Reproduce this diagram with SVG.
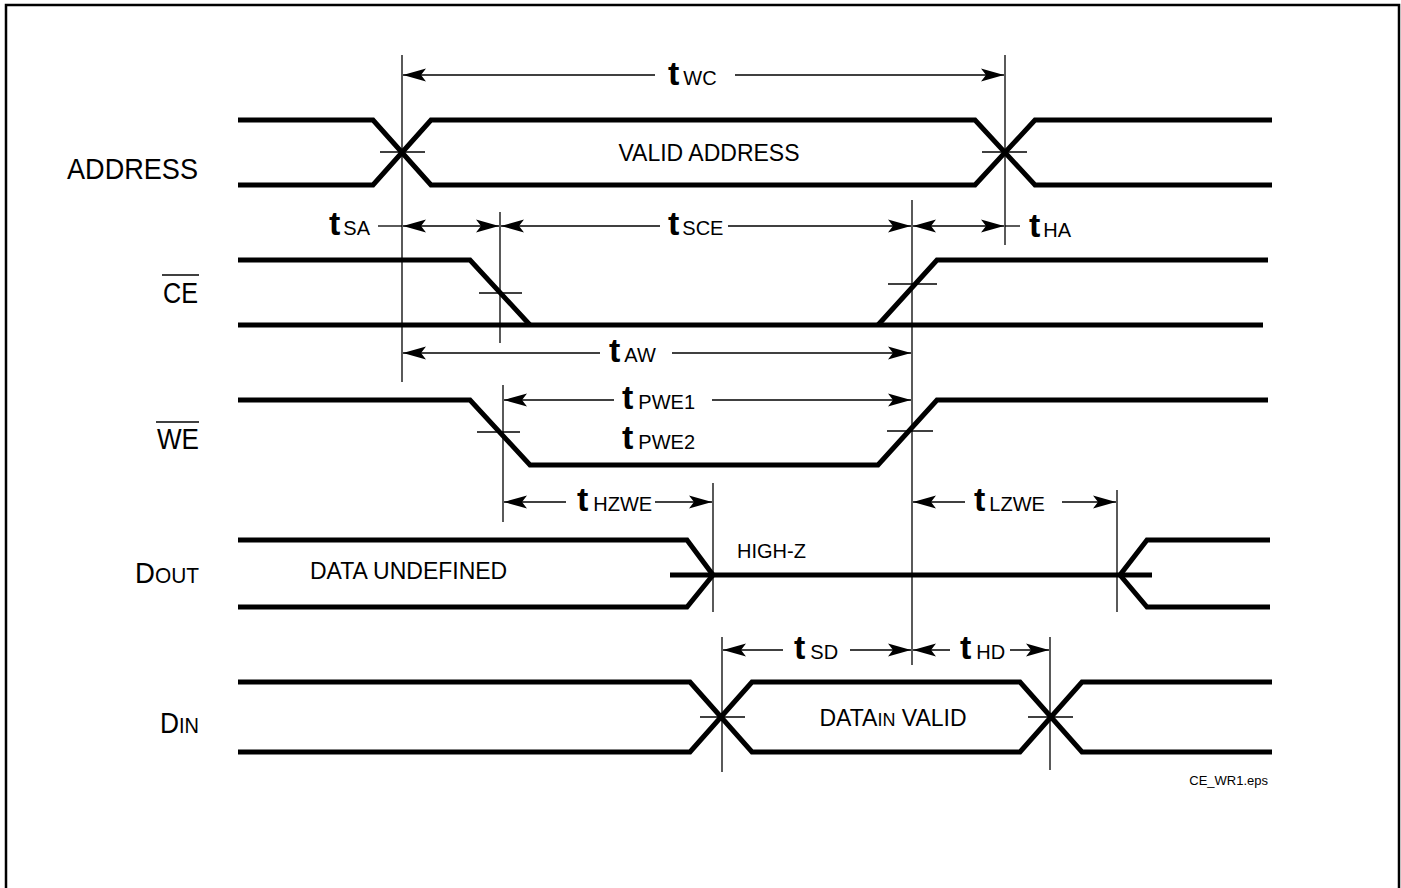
<svg xmlns="http://www.w3.org/2000/svg" width="1401" height="888" viewBox="0 0 1401 888">
<defs>
<marker id="ah" markerUnits="userSpaceOnUse" markerWidth="24" markerHeight="16" viewBox="0 0 24 16" refX="23" refY="8" orient="auto-start-reverse">
<path d="M0,1.5 L23,8 L0,14.5 L5,8 z" fill="#000"/>
</marker>
</defs>
<style>
.sig{fill:none;stroke:#000;stroke-width:5;stroke-linejoin:miter}
.thin{fill:none;stroke:#000;stroke-width:1.3}
.arr{fill:none;stroke:#000;stroke-width:1.3;marker-end:url(#ah)}
.lbl{font-family:"Liberation Sans",Arial,sans-serif;fill:#000}
.big{font-size:29px}
.txt{font-size:23px}
.tb{font-family:"Liberation Sans",Arial,sans-serif;font-weight:bold;font-size:34px}
.sub{font-family:"Liberation Sans",Arial,sans-serif;font-size:20px}
</style>
<rect x="6" y="5" width="1393" height="900" fill="#fff" stroke="#000" stroke-width="2.5"/>

<g id="connectors">
<!-- vertical reference lines -->
<line class="thin" x1="402" y1="55" x2="402" y2="382"/>
<line class="thin" x1="1005" y1="55" x2="1005" y2="245"/>
<line class="thin" x1="500" y1="212" x2="500" y2="343"/>
<line class="thin" x1="912" y1="200" x2="912" y2="665"/>
<line class="thin" x1="503" y1="385" x2="503" y2="522"/>
<line class="thin" x1="713" y1="483" x2="713" y2="612"/>
<line class="thin" x1="1117" y1="490" x2="1117" y2="612"/>
<line class="thin" x1="722" y1="637" x2="722" y2="772"/>
<line class="thin" x1="1050" y1="637" x2="1050" y2="770"/>
<!-- ticks -->
<line class="thin" x1="380" y1="152" x2="425" y2="152"/>
<line class="thin" x1="982" y1="152" x2="1027" y2="152"/>
<line class="thin" x1="479" y1="293" x2="522" y2="293"/>
<line class="thin" x1="888" y1="284" x2="937" y2="284"/>
<line class="thin" x1="477" y1="432" x2="520" y2="432"/>
<line class="thin" x1="887" y1="431" x2="933" y2="431"/>
<line class="thin" x1="700" y1="717" x2="745" y2="717"/>
<line class="thin" x1="1028" y1="717" x2="1073" y2="717"/>
<!-- tWC -->
<line class="arr" x1="655" y1="75" x2="403" y2="75"/>
<line class="arr" x1="735" y1="75" x2="1004" y2="75"/>
<!-- tSA -->
<line class="thin" x1="378" y1="226" x2="402" y2="226"/>
<line class="arr" x1="450" y1="226" x2="403" y2="226"/>
<line class="arr" x1="450" y1="226" x2="499" y2="226"/>
<!-- tSCE -->
<line class="arr" x1="660" y1="226" x2="501" y2="226"/>
<line class="arr" x1="728" y1="226" x2="911" y2="226"/>
<!-- tHA -->
<line class="arr" x1="958" y1="226" x2="913" y2="226"/>
<line class="arr" x1="958" y1="226" x2="1004" y2="226"/>
<line class="thin" x1="1005" y1="226" x2="1020" y2="226"/>
<!-- tAW -->
<line class="arr" x1="600" y1="353" x2="403" y2="353"/>
<line class="arr" x1="672" y1="353" x2="911" y2="353"/>
<!-- tPWE1 -->
<line class="arr" x1="614" y1="400" x2="504" y2="400"/>
<line class="arr" x1="712" y1="400" x2="911" y2="400"/>
<!-- tHZWE -->
<line class="arr" x1="566" y1="502" x2="504" y2="502"/>
<line class="arr" x1="655" y1="502" x2="712" y2="502"/>
<!-- tLZWE -->
<line class="arr" x1="965" y1="502" x2="913" y2="502"/>
<line class="arr" x1="1062" y1="502" x2="1116" y2="502"/>
<!-- tSD -->
<line class="arr" x1="783" y1="650" x2="723" y2="650"/>
<line class="arr" x1="850" y1="650" x2="911" y2="650"/>
<!-- tHD -->
<line class="arr" x1="950" y1="650" x2="913" y2="650"/>
<line class="arr" x1="1010" y1="650" x2="1049" y2="650"/>
</g>

<g id="address">
<text class="lbl big" x="67" y="179" textLength="131" lengthAdjust="spacingAndGlyphs">ADDRESS</text>
<path class="sig" d="M238,120 H373 L431,185 H975 L1035,120 H1272"/>
<path class="sig" d="M238,185 H373 L431,120 H975 L1035,185 H1272"/>
<text class="lbl txt" x="709" y="161" text-anchor="middle">VALID ADDRESS</text>
</g>

<g id="ce">
<text class="lbl big" x="163" y="303" textLength="35" lengthAdjust="spacingAndGlyphs">CE</text>
<line class="thin" x1="162" y1="275" x2="199" y2="275" stroke-width="2"/>
<path class="sig" d="M238,260 H470 L530,325"/>
<path class="sig" d="M238,325 H1263"/>
<path class="sig" d="M878,325 L937,260 H1268"/>
</g>

<g id="we">
<text class="lbl big" x="157" y="449" textLength="42" lengthAdjust="spacingAndGlyphs">WE</text>
<line class="thin" x1="156" y1="422" x2="199" y2="422" stroke-width="2"/>
<path class="sig" d="M238,400 H470 L530,465 H878 L937,400 H1268"/>
</g>

<g id="dout">
<text class="lbl" x="135" y="583" textLength="64" lengthAdjust="spacingAndGlyphs"><tspan font-size="29">D</tspan><tspan font-size="22">OUT</tspan></text>
<path class="sig" d="M238,540 H687 L713,575 L687,607 H238"/>
<path class="sig" d="M670,575 H1152"/>
<path class="sig" d="M1270,540 H1147 L1120,575 L1147,607 H1270"/>
<text class="lbl txt" x="310" y="579">DATA UNDEFINED</text>
<text class="lbl" x="737" y="558" font-size="20">HIGH-Z</text>
</g>

<g id="din">
<text class="lbl" x="160" y="733" textLength="39" lengthAdjust="spacingAndGlyphs"><tspan font-size="29">D</tspan><tspan font-size="22">IN</tspan></text>
<path class="sig" d="M238,682 H690 L752,752 H1020 L1082,682 H1272"/>
<path class="sig" d="M238,752 H690 L752,682 H1020 L1082,752 H1272"/>
<text class="lbl" x="893" y="726" text-anchor="middle"><tspan font-size="23">DATA</tspan><tspan font-size="18">IN</tspan><tspan font-size="23"> VALID</tspan></text>
</g>

<g id="labels">
<text x="668" y="85"><tspan class="tb">t</tspan><tspan class="sub" dx="4">WC</tspan></text>
<text x="329" y="235"><tspan class="tb">t</tspan><tspan class="sub" dx="3">SA</tspan></text>
<text x="668" y="235"><tspan class="tb">t</tspan><tspan class="sub" dx="3">SCE</tspan></text>
<text x="1029" y="237"><tspan class="tb">t</tspan><tspan class="sub" dx="3">HA</tspan></text>
<text x="609" y="362"><tspan class="tb">t</tspan><tspan class="sub" dx="4">AW</tspan></text>
<text x="622" y="409"><tspan class="tb">t</tspan><tspan class="sub" dx="5">PWE1</tspan></text>
<text x="622" y="449"><tspan class="tb">t</tspan><tspan class="sub" dx="5">PWE2</tspan></text>
<text x="577" y="511"><tspan class="tb">t</tspan><tspan class="sub" dx="5">HZWE</tspan></text>
<text x="974" y="511"><tspan class="tb">t</tspan><tspan class="sub" dx="4">LZWE</tspan></text>
<text x="794" y="659"><tspan class="tb">t</tspan><tspan class="sub" dx="5">SD</tspan></text>
<text x="960" y="659"><tspan class="tb">t</tspan><tspan class="sub" dx="5">HD</tspan></text>
<text class="lbl" x="1268" y="785" font-size="13" text-anchor="end">CE_WR1.eps</text>
</g>
</svg>
